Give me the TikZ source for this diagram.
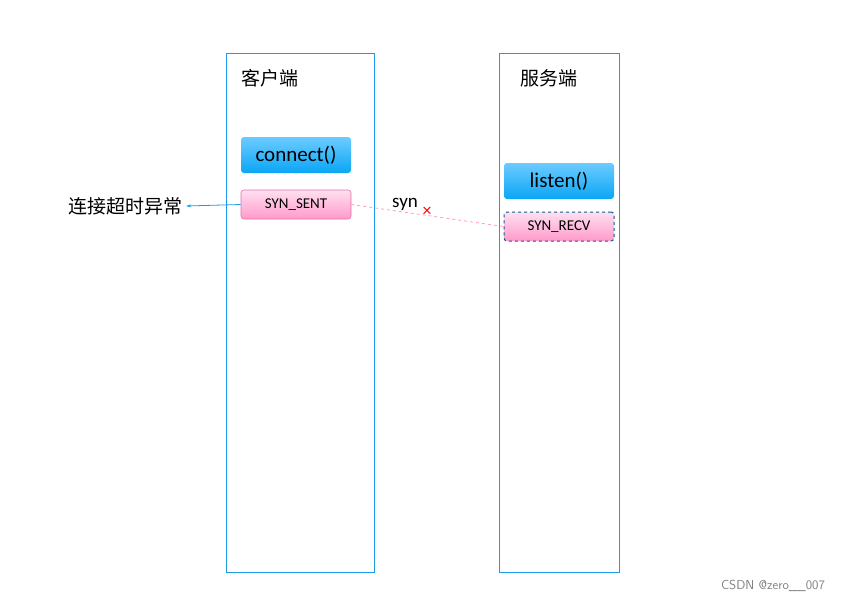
\documentclass[tikz,border=0pt]{standalone}
\usepackage{fontspec}
\setmainfont{Carlito}
\newfontfamily\cjk{Noto Sans CJK SC}
\usetikzlibrary{arrows.meta}
\definecolor{lane}{HTML}{1E9BE8}
\definecolor{bluetop}{HTML}{6CCBFF}
\definecolor{bluebot}{HTML}{0AA6F5}
\definecolor{pinktop}{HTML}{FFE0F0}
\definecolor{pinkbot}{HTML}{FF9ACB}
\definecolor{pinkline}{HTML}{E070A8}
\tikzset{
 lanebox/.style={draw=lane,line width=0.6pt},
 bluebox/.style={rounded corners=3pt,top color=bluetop,bottom color=bluebot,draw=none,minimum width=110pt,minimum height=36pt,font=\fontsize{21}{21}\selectfont},
 pinkbox/.style={rounded corners=3pt,top color=pinktop,bottom color=pinkbot,draw=pinkline,line width=0.6pt,minimum width=110pt,minimum height=29pt,font=\fontsize{15}{15}\selectfont},
 lbl/.style={font=\cjk\fontsize{19}{19}\selectfont},
}
\begin{document}
\begin{tikzpicture}[x=1pt,y=-1pt]
\useasboundingbox[fill=white] (0,0) rectangle (850,602);
\draw[lanebox] (226,53) rectangle (374,572);
\draw[lanebox] (499,53) rectangle (619,572);
\node[lbl] (c) at (270,78) {客户端};
\node[lbl] (s) at (549,78) {服务端};
\node[bluebox] (connect) at (296,155) {connect()};
\node[pinkbox] (sent) at (296,204.5) {SYN\_SENT};
\node[bluebox] (listen) at (559,181) {listen()};
\node[pinkbox,draw=lane!60!black,dashed,line width=1pt] (recv) at (559,226.5) {SYN\_RECV};
\node[lbl,anchor=east] (err) at (186,206) {连接超时异常};
\draw[lane,-{Stealth[length=5pt,width=3pt]},line width=0.8pt] (sent.west) -- (err.east);
\draw[pinkbot,dashed,line width=0.8pt] (sent.east) -- (recv.west);
\node[font=\fontsize{19}{19}\selectfont] (syn) at (405,204) {syn};
\node[text=red,font=\fontsize{18}{18}\selectfont] (x) at (427,212) {×};
\node[text=gray,font=\sffamily\fontsize{13}{13}\selectfont] (wm) at (773,586) {CSDN @zero\_\_007};
\end{tikzpicture}
\end{document}
